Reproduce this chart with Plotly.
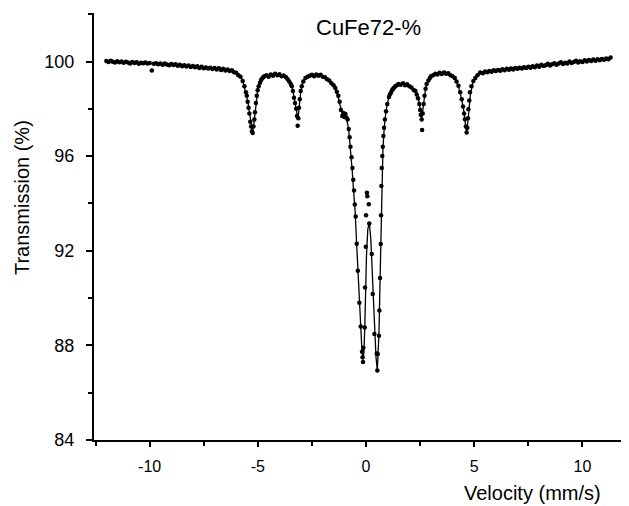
import plotly.graph_objects as go

# ---- measured data points (velocity mm/s, transmission %) ----
velocity = [
    -12.0, -11.9, -11.8, -11.7, -11.6, -11.5, -11.4, -11.3, -11.2, -11.1,
    -11.0, -10.9, -10.8, -10.7, -10.6, -10.5, -10.4, -10.3, -10.2, -10.1,
    -10.0, -9.9, -9.8, -9.7, -9.6, -9.5, -9.4, -9.3, -9.2, -9.1,
    -9.0, -8.9, -8.8, -8.7, -8.6, -8.5, -8.4, -8.3, -8.2, -8.1,
    -8.0, -7.9, -7.8, -7.7, -7.6, -7.5, -7.4, -7.3, -7.2, -7.1,
    -7.0, -6.9, -6.8, -6.7, -6.6, -6.5, -6.4, -6.3, -6.2, -6.1,
    -6.0, -5.9, -5.8, -5.7,
    -5.62, -5.55, -5.51, -5.47, -5.43, -5.39, -5.35, -5.31, -5.27, -5.24,
    -5.20, -5.16, -5.13, -5.09, -5.05, -5.01, -4.96, -4.90, -4.85, -4.80,
    -4.75, -4.70, -4.60, -4.50, -4.40, -4.30, -4.20, -4.10, -4.00, -3.90,
    -3.80, -3.70, -3.62, -3.55, -3.48, -3.43, -3.38, -3.33, -3.28, -3.23,
    -3.19, -3.16, -3.13, -3.10, -3.06, -3.02, -2.97, -2.90, -2.80, -2.70,
    -2.60, -2.50, -2.40, -2.30, -2.20, -2.10, -2.00, -1.90, -1.80, -1.70,
    -1.60, -1.50, -1.42, -1.35, -1.28, -1.22, -1.16, -1.10, -1.05, -1.00,
    -0.95, -0.90, -0.85, -0.80, -0.76, -0.72, -0.67, -0.63, -0.59, -0.555,
    -0.52, -0.48, -0.43, -0.38, -0.31, -0.245, -0.185, -0.16, -0.14, -0.125,
    -0.06, -0.046, -0.014, 0.00, 0.04, 0.06, 0.125, 0.15, 0.263, 0.31,
    0.384, 0.494, 0.522, 0.54, 0.60, 0.615, 0.647, 0.679, 0.693, 0.707,
    0.726, 0.75, 0.772, 0.80, 0.832, 0.87, 0.924, 0.98, 1.06, 1.10,
    1.15, 1.20, 1.25, 1.30, 1.35, 1.43, 1.50, 1.60, 1.71, 1.80,
    1.90, 2.00, 2.10, 2.20, 2.28, 2.34, 2.40, 2.46, 2.50, 2.53,
    2.57, 2.59, 2.62, 2.66, 2.70, 2.75, 2.80, 2.88, 2.95, 3.00,
    3.10, 3.20, 3.30, 3.40, 3.50, 3.60, 3.70, 3.80, 3.90, 4.00,
    4.10, 4.18, 4.27, 4.35, 4.42, 4.48, 4.53, 4.57, 4.61, 4.65,
    4.68, 4.71, 4.73, 4.77, 4.80, 4.87, 4.96, 5.05, 5.15, 5.27,
    5.40, 5.50, 5.60, 5.70, 5.80, 5.90, 6.00,
    6.1, 6.2, 6.3, 6.4, 6.5, 6.6, 6.7, 6.8, 6.9, 7.0,
    7.1, 7.2, 7.3, 7.4, 7.5, 7.6, 7.7, 7.8, 7.9, 8.0,
    8.1, 8.2, 8.3, 8.4, 8.5, 8.6, 8.7, 8.8, 8.9, 9.0,
    9.1, 9.2, 9.3, 9.4, 9.5, 9.6, 9.7, 9.8, 9.9, 10.0,
    10.1, 10.2, 10.3, 10.4, 10.5, 10.6, 10.7, 10.8, 10.9, 11.0,
    11.1, 11.2, 11.3,
]
transmission = [
    100.02, 99.98, 100.03, 99.99, 99.96, 100.01, 99.97, 100.00, 99.95, 99.99,
    99.96, 99.92, 99.98, 99.94, 99.97, 99.90, 99.95, 99.93, 99.96, 99.91,
    99.94, 99.62, 99.90, 99.93, 99.88, 99.91, 99.86, 99.92, 99.87, 99.84,
    99.89, 99.85, 99.88, 99.82, 99.86, 99.80, 99.84, 99.79, 99.83, 99.77,
    99.81, 99.76, 99.80, 99.73, 99.78, 99.71, 99.75, 99.70, 99.74, 99.68,
    99.73, 99.66, 99.71, 99.64, 99.69, 99.62, 99.66, 99.60, 99.63, 99.55,
    99.52, 99.42, 99.35, 99.18,
    98.95, 98.70, 98.55, 98.30, 98.05, 97.80, 97.45, 97.25, 97.05, 96.98,
    97.25, 97.55, 97.85, 98.25, 98.55, 98.78, 98.95, 99.10, 99.22, 99.28,
    99.33, 99.38, 99.42, 99.36, 99.45, 99.40, 99.48, 99.42, 99.46, 99.38,
    99.41, 99.33, 99.25, 99.15, 99.05, 98.95, 98.75, 98.47, 98.25, 98.00,
    97.70, 97.28, 97.60, 98.05, 98.40, 98.75, 98.95, 99.15, 99.30, 99.36,
    99.40, 99.44, 99.38, 99.45, 99.40, 99.44, 99.36, 99.33, 99.25, 99.20,
    99.08, 99.00, 98.88, 98.72, 98.55, 98.30, 97.95, 97.70, 97.82, 97.65,
    97.78, 97.62, 97.55, 97.15, 96.80, 96.40, 95.95, 95.50, 95.00, 94.55,
    93.95, 93.45, 92.30, 91.15, 89.80, 88.80, 87.73, 87.50, 87.30, 87.90,
    88.76, 90.45, 92.17, 93.50, 94.45, 94.30, 93.97, 93.15, 91.86, 90.17,
    88.48, 87.66, 86.94, 87.64, 88.41, 89.47, 90.85, 92.28, 93.50, 94.74,
    95.50, 96.00, 96.40, 96.85, 97.20, 97.55, 97.90, 98.20, 98.50, 98.60,
    98.68, 98.78, 98.85, 98.90, 98.95, 99.00, 99.05, 99.02, 99.08, 99.00,
    99.04, 98.95, 98.90, 98.80, 98.75, 98.60, 98.45, 98.20, 97.95, 97.75,
    97.55, 97.10, 97.80, 98.20, 98.55, 98.85, 99.05, 99.20, 99.30, 99.38,
    99.42, 99.48, 99.45, 99.52, 99.47, 99.53, 99.48, 99.50, 99.42, 99.38,
    99.30, 99.15, 98.97, 98.70, 98.40, 98.10, 97.80, 97.56, 97.25, 97.00,
    97.20, 97.60, 97.98, 98.35, 98.70, 98.95, 99.18, 99.30, 99.42, 99.53,
    99.50, 99.58, 99.55, 99.60, 99.57, 99.63, 99.60,
    99.64, 99.61, 99.67, 99.63, 99.69, 99.65, 99.70, 99.66, 99.72, 99.69,
    99.74, 99.70, 99.76, 99.72, 99.78, 99.74, 99.80, 99.76, 99.83, 99.78,
    99.86, 99.81, 99.84, 99.90, 99.83, 99.88, 99.93, 99.86, 99.91, 99.97,
    99.89, 99.95, 99.92, 100.00, 99.94, 99.98, 100.03, 99.96, 100.01, 99.98,
    100.05, 100.00, 100.06, 100.02, 100.08, 100.03, 100.09, 100.05, 100.11, 100.07,
    100.13, 100.10, 100.17,
]

# ---- fitted curve ----
fit_velocity = [
    -12.0, -11.0, -10.0, -9.0, -8.0, -7.0, -6.4, -6.0, -5.8, -5.67,
    -5.55, -5.45, -5.38, -5.31, -5.25, -5.19, -5.13, -5.07, -5.01, -4.9,
    -4.75, -4.5, -4.0, -3.7, -3.5, -3.43, -3.33, -3.25, -3.19, -3.16,
    -3.12, -3.08, -3.02, -2.92, -2.75, -2.5, -2.2, -2.0, -1.8, -1.6,
    -1.45, -1.3, -1.2, -1.1, -1.0, -0.9, -0.8, -0.72, -0.64, -0.58,
    -0.5, -0.44, -0.38, -0.31, -0.25, -0.19, -0.14, -0.10, -0.06, -0.02,
    0.02, 0.08, 0.15, 0.22, 0.28, 0.33, 0.39, 0.46, 0.52, 0.57,
    0.60, 0.63, 0.66, 0.69, 0.71, 0.74, 0.78, 0.84, 0.92, 1.05,
    1.25, 1.45, 1.7, 1.95, 2.15, 2.3, 2.40, 2.47, 2.53, 2.57,
    2.61, 2.67, 2.75, 2.88, 3.1, 3.5, 3.9, 4.15, 4.27, 4.42,
    4.52, 4.6, 4.65, 4.70, 4.75, 4.82, 4.95, 5.15, 5.4, 6.0,
    7.0, 8.0, 9.0, 10.0, 11.3,
]
fit_transmission = [
    100.00, 99.96, 99.92, 99.87, 99.80, 99.72, 99.66, 99.55, 99.40, 99.10,
    98.70, 98.25, 97.80, 97.30, 97.05, 97.30, 97.85, 98.35, 98.75, 99.10,
    99.32, 99.42, 99.45, 99.35, 99.15, 99.00, 98.50, 98.05, 97.75, 97.65,
    97.80, 98.10, 98.70, 99.15, 99.35, 99.42, 99.43, 99.40, 99.25, 99.10,
    98.90, 98.55, 98.15, 97.85, 97.75, 97.60, 97.10, 96.40, 95.40, 94.60,
    93.60, 92.40, 91.20, 89.90, 88.80, 87.80, 87.40, 87.70, 88.70, 90.30,
    91.80, 92.90, 93.20, 92.50, 91.10, 90.00, 88.50, 87.50, 86.95, 87.70,
    88.60, 90.00, 91.40, 92.80, 94.00, 95.10, 96.30, 97.20, 97.90, 98.50,
    98.85, 99.00, 99.05, 98.95, 98.85, 98.75, 98.55, 98.25, 97.85, 97.55,
    97.85, 98.35, 98.85, 99.20, 99.42, 99.50, 99.45, 99.20, 98.95, 98.40,
    97.90, 97.30, 96.98, 97.40, 97.98, 98.60, 99.15, 99.45, 99.55, 99.65,
    99.75, 99.85, 99.93, 100.02, 100.15,
]

x_ticks = [-10, -5, 0, 5, 10]
x_minor = [-12.5, -7.5, -2.5, 2.5, 7.5, 12.5]
y_ticks = [84, 88, 92, 96, 100]
y_minor = [86, 90, 94, 98, 102]

FONT = "Liberation Sans, Arial, sans-serif"

fig = go.Figure()
fig.add_trace(go.Scatter(
    x=fit_velocity, y=fit_transmission, mode="lines",
    line=dict(color="black", width=1.3), hoverinfo="skip",
))
fig.add_trace(go.Scatter(
    x=velocity, y=transmission, mode="markers",
    marker=dict(color="black", size=4.5),
))

# the page adds an 8px body margin, so the figure is sized to fit the window
fig.update_layout(
    width=621, height=498,
    margin=dict(l=86, r=0, t=5, b=66),
    paper_bgcolor="white", plot_bgcolor="white",
    showlegend=False,
    font=dict(family=FONT, color="black"),
    xaxis=dict(
        range=[-12.57, 12.15],
        tickvals=x_ticks, ticktext=[str(v) for v in x_ticks],
        ticks="outside", ticklen=5, tickwidth=1.5, tickcolor="black",
        ticklabelstandoff=6,
        minor=dict(tickvals=x_minor, ticks="outside", ticklen=4,
                   tickwidth=1.5, tickcolor="black"),
        showline=True, linewidth=2, linecolor="black",
        showgrid=False, zeroline=False,
        tickfont=dict(size=16, family=FONT, color="black"),
    ),
    yaxis=dict(
        range=[84, 102.05],
        tickvals=y_ticks, ticktext=[str(v) for v in y_ticks],
        ticks="outside", ticklen=6, tickwidth=1.5, tickcolor="black",
        ticklabelstandoff=8,
        minor=dict(tickvals=y_minor, ticks="outside", ticklen=4,
                   tickwidth=1.5, tickcolor="black"),
        showline=True, linewidth=2, linecolor="black",
        showgrid=False, zeroline=False,
        tickfont=dict(size=18, family=FONT, color="black"),
    ),
    annotations=[
        dict(text="CuFe72-%", xref="paper", yref="paper", x=0.514, y=0.965,
             xanchor="center", yanchor="middle", showarrow=False,
             font=dict(size=22, family=FONT, color="black")),
        dict(text="Transmission (%)", xref="paper", yref="paper", x=-0.1346, y=0.569,
             xanchor="center", yanchor="middle", showarrow=False, textangle=-90,
             font=dict(size=20, family=FONT, color="black")),
        dict(text="Velocity (mm/s)", xref="paper", yref="paper", x=0.819, y=-0.124,
             xanchor="center", yanchor="middle", showarrow=False,
             font=dict(size=20, family=FONT, color="black")),
    ],
)

fig.write_html("out.html")
